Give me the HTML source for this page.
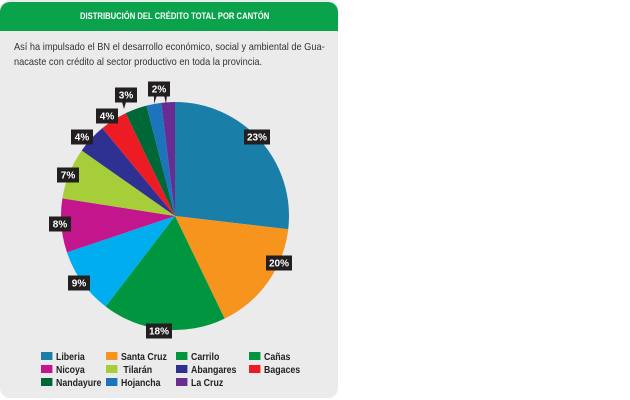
<!DOCTYPE html>
<html><head><meta charset="utf-8"><style>
html,body{margin:0;padding:0;background:#fff;width:630px;height:400px;overflow:hidden}
#card{position:absolute;left:0;top:0;width:338px;height:398px;background:#ebebeb;border-radius:10px;overflow:hidden}
#hdr{position:absolute;left:0;top:2px;width:338px;height:29px;background:#0aa24b;border-radius:10px 10px 0 0;color:#fff;font:bold 9px "Liberation Sans",sans-serif;line-height:29px}
#hdr span{position:absolute;left:80px;top:0;white-space:nowrap;transform:scaleX(0.85);transform-origin:left}
#txt{position:absolute;left:14px;top:40px;font:10.5px/15px "Liberation Sans",sans-serif;color:#333;transform:scaleX(0.88);transform-origin:left;white-space:nowrap}
svg{position:absolute;left:0;top:0}
.lg{position:absolute;font:bold 10px "Liberation Sans",sans-serif;color:#222;white-space:nowrap;transform:scaleX(0.88);transform-origin:left}
.lg i{display:inline-block;width:13px;height:8px;margin-right:4px}
</style></head><body>
<div id="card">
<div id="hdr"><span>DISTRIBUCIÓN DEL CRÉDITO TOTAL POR CANTÓN</span></div>
<div id="txt">Así ha impulsado el BN el desarrollo económico, social y ambiental de Gua-<br>nacaste con crédito al sector productivo en toda la provincia.</div>
<svg id="s" width="338" height="398"></svg>
<div class="lg" style="left:41px;top:352px"><i style="background:#1a7fa8"></i>Liberia</div>
<div class="lg" style="left:106px;top:352px"><i style="background:#f7941d"></i>Santa Cruz</div>
<div class="lg" style="left:176px;top:352px"><i style="background:#00963f"></i>Carrilo</div>
<div class="lg" style="left:249px;top:352px"><i style="background:#00963f"></i>Cañas</div>
<div class="lg" style="left:41px;top:365px"><i style="background:#c4168c"></i>Nicoya</div>
<div class="lg" style="left:106px;top:365px"><i style="background:#a6ce39"></i> Tilarán</div>
<div class="lg" style="left:176px;top:365px"><i style="background:#2e3192"></i>Abangares</div>
<div class="lg" style="left:249px;top:365px"><i style="background:#ed1c24"></i>Bagaces</div>
<div class="lg" style="left:41px;top:378px"><i style="background:#006838"></i>Nandayure</div>
<div class="lg" style="left:106px;top:378px"><i style="background:#1c75bc"></i>Hojancha</div>
<div class="lg" style="left:176px;top:378px"><i style="background:#6a2c91"></i>La Cruz</div>
</div>
<script>
var cx=175,cy=216,r=114;
var ends=[96.7,154.2,217.5,251.4,278.9,305.1,320.4,334.4,345.5,353.1,360];
var cols=["#1a7fa8","#f7941d","#00963f","#00aeef","#c4168c","#a6ce39","#2e3192","#ed1c24","#006838","#1c75bc","#6a2c91"];
var h="",a0=0;
function pt(a){var t=a*Math.PI/180;return [cx+r*Math.sin(t),cy-r*Math.cos(t)];}
for(var i=0;i<ends.length;i++){var p=pt(a0),q=pt(ends[i]);var lg=ends[i]-a0>180?1:0;
h+='<path d="M'+cx+' '+cy+' L'+p[0].toFixed(2)+' '+p[1].toFixed(2)+' A'+r+' '+r+' 0 '+lg+' 1 '+q[0].toFixed(2)+' '+q[1].toFixed(2)+' Z" fill="'+cols[i]+'"/>';a0=ends[i];}
var L=[["23%",257,137],["20%",279,263],["18%",159,331],["9%",79,283],["8%",60,224],["7%",68,175],["4%",82,137],["4%",107,116],["3%",126,95],["2%",159,89]];
h+='<path d="M122 102 L124 109 L126 102 Z" fill="#231f20"/><path d="M154 95 L154 104 L157 95 Z M164 95 L166 104 L167 95Z" fill="#231f20"/>';
for(var j=0;j<L.length;j++){var w=L[j][0].length>2?26:22;
h+='<rect x="'+(L[j][1]-w/2)+'" y="'+(L[j][2]-7.5)+'" width="'+w+'" height="15" fill="#231f20"/>';
h+='<text x="'+L[j][1]+'" y="'+(L[j][2]+3.5)+'" fill="#fff" font-family="Liberation Sans,sans-serif" font-weight="bold" font-size="10" text-anchor="middle">'+L[j][0]+'</text>';}
document.getElementById("s").innerHTML=h;
</script>
</body></html>
